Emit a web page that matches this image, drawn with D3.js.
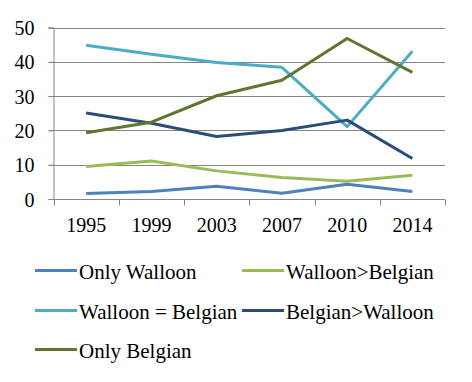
<!DOCTYPE html>
<html>
<head>
<meta charset="UTF-8">
<title>Identity chart</title>
<script src="https://d3js.org/d3.v7.min.js"></script>
<style>
  body { margin: 0; background: #fff; }
  svg text { font-family: "Liberation Serif", "Times New Roman", serif; fill: #000; }
</style>
</head>
<body>
<div id="chart"></div>
<script>
  // data
  var years = ["1995", "1999", "2003", "2007", "2010", "2014"];
  var onlyWalloon = [1.6, 2.2, 3.7, 1.7, 4.3, 2.2];
  var walloonGtBelgian = [9.5, 11.1, 8.2, 6.3, 5.2, 6.9];
  var walloonEqBelgian = [44.8, 42.2, 39.8, 38.4, 21.1, 43.1];
  var belgianGtWalloon = [25.1, 22.1, 18.2, 20.0, 23.0, 11.8];
  var onlyBelgian = [19.3, 22.4, 30.1, 34.6, 46.8, 36.9];
  var yTicks = [0, 10, 20, 30, 40, 50];

  var series = [
    { name: "Only Walloon", values: onlyWalloon, color: "#4f81bd" },
    { name: "Walloon>Belgian", values: walloonGtBelgian, color: "#9bbb59" },
    { name: "Walloon = Belgian", values: walloonEqBelgian, color: "#4bacc6" },
    { name: "Belgian>Walloon", values: belgianGtWalloon, color: "#2c4d75" },
    { name: "Only Belgian", values: onlyBelgian, color: "#5f7530" }
  ];

  var W = 472, H = 382;
  var plotL = 53.5, plotR = 445, plotT = 27.5, plotB = 199;

  var svg = d3.select("#chart").append("svg").attr("width", W).attr("height", H);

  var x = d3.scaleBand().domain(years).range([plotL, plotR]);
  var y = d3.scaleLinear().domain([0, 50]).range([plotB, plotT]);

  // gridlines
  svg.append("g").selectAll("line").data(yTicks.filter(function(d) { return d > 0; }))
    .enter().append("line")
    .attr("x1", plotL - 5).attr("x2", plotR)
    .attr("y1", function(d) { return Math.round(y(d)) + 0.5; })
    .attr("y2", function(d) { return Math.round(y(d)) + 0.5; })
    .attr("stroke", "#868686").attr("stroke-width", 1);

  // y axis
  var yAxis = svg.append("g").attr("transform", "translate(" + plotL + ",0)")
    .call(d3.axisLeft(y).tickValues(yTicks).tickSize(5).tickPadding(14));
  yAxis.select(".domain").attr("stroke", "#868686");
  yAxis.selectAll(".tick line").attr("stroke", "#868686");
  yAxis.selectAll("text").style("font-size", "20px").attr("dy", "0.35em");

  // x axis with ticks at band edges
  var xAxis = svg.append("g").attr("transform", "translate(0," + (Math.round(plotB) + 0.5) + ")");
  xAxis.append("line").attr("x1", plotL).attr("x2", plotR).attr("stroke", "#868686");
  var edges = years.map(function(d) { return x(d); }).concat([plotR]);
  xAxis.selectAll(".edge").data(edges).enter().append("line")
    .attr("class", "edge")
    .attr("x1", function(d) { return Math.round(d) + 0.5; })
    .attr("x2", function(d) { return Math.round(d) + 0.5; })
    .attr("y1", 0).attr("y2", 6)
    .attr("stroke", "#868686");
  xAxis.selectAll("text").data(years).enter().append("text")
    .attr("x", function(d) { return x(d) + x.bandwidth() / 2; })
    .attr("y", 32)
    .attr("text-anchor", "middle")
    .style("font-size", "20px")
    .text(function(d) { return d; });

  // lines
  var line = d3.line()
    .x(function(d, i) { return x(years[i]) + x.bandwidth() / 2; })
    .y(function(d) { return y(d); });

  svg.append("g").selectAll("path").data(series).enter().append("path")
    .attr("d", function(s) { return line(s.values); })
    .attr("fill", "none")
    .attr("stroke", function(s) { return s.color; })
    .attr("stroke-width", 3)
    .attr("stroke-linejoin", "round");

  // legend
  var legendCols = [35, 242];
  var legendRows = [270.5, 310.5, 349.5];
  var lg = svg.append("g").selectAll("g").data(series).enter().append("g")
    .attr("transform", function(s, i) {
      return "translate(" + legendCols[i % 2] + "," + legendRows[Math.floor(i / 2)] + ")";
    });
  lg.append("line").attr("x1", 0).attr("x2", 42).attr("y1", 0).attr("y2", 0)
    .attr("stroke", function(s) { return s.color; }).attr("stroke-width", 3);
  lg.append("text").attr("x", 44).attr("y", 0).attr("dy", "0.4em")
    .style("font-size", "21px")
    .text(function(s) { return s.name; });
</script>
</body>
</html>
